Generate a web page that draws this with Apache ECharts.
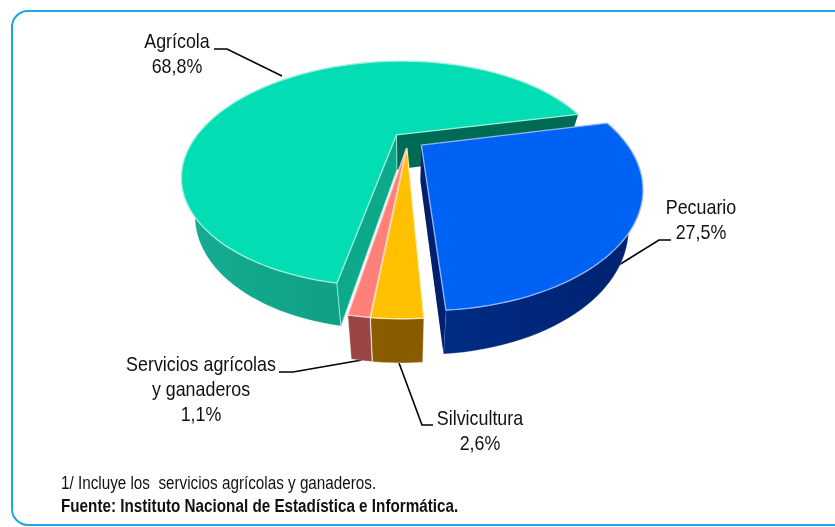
<!DOCTYPE html>
<html><head><meta charset="utf-8">
<style>html,body{margin:0;padding:0;background:#fff;overflow:hidden}#c{width:835px;height:527px}</style>
<script src="https://cdn.jsdelivr.net/npm/echarts@6/dist/echarts.min.js"></script>
</head><body><div id="c"></div>
<script>
// Data
const categories = ['Agrícola', 'Pecuario', 'Silvicultura', 'Servicios agrícolas\ny ganaderos'];
const shares = [68.8, 27.5, 2.6, 1.1];
const footnote = '1/ Incluye los  servicios agrícolas y ganaderos.';
const source = 'Fuente: Instituto Nacional de Estadística e Informática.';

// Styles and layout
const topColors = ['#02DDB4', '#0062F4', '#FFC000', '#FF8078'];
const wallColors = [['#14AE92', '#0A8B72'], ['#002C85', '#00216F'], ['#8A5C00', '#8A5C00'], ['#9A4644', '#9A4644']];
const innerEnd = ['#006B55', '#001F6E', null, null];
const innerStart = ['#0CA98B', null, null, null];
const edgeColors = ['#9DEFDF', '#8FB6F6', '#FFE9A8', '#FFC9C4'];
const explode = [0.06, 0.10, 0.09, 0.09];
const nudgeX = [0, 0, 0.012, 0.02];
const labelPos = [[177, 55], [701, 221], [480, 432], [201, 390]];
const leaders = [
  [[214, 49], [227, 49], [282, 76]],
  [[671, 240], [659, 240], [614, 268]],
  [[399, 363], [422, 425], [433, 425]],
  [[279, 372], [293, 372], [362, 360]]
];
const P = {ox: 405, oy: 139, rx: 202, ry: 102, persp: 0.35, shear: 4, depth: 35, depthGrow: 0.24, shrink: 0.94, start: 99.4};
const FONT = '"Liberation Sans", Arial, sans-serif';

const total = shares.reduce((a, b) => a + b, 0);
function pct(v) { return v.toFixed(1).replace('.', ',') + '%'; }
function proj(X, Y, low) {
  const f = 1 / (1 - P.persp * Y);
  let x = P.ox + (P.rx * X - P.shear * Y) * f, y = P.oy + P.ry * Y * f;
  if (low) { x = P.ox + (x - P.ox) * P.shrink; y += P.depth * (1 + P.depthGrow * Y); }
  return [x, y];
}
function renderSlice(params, api) {
  const i = params.dataIndex;
  let cum = 0;
  for (let k = 0; k < i; k++) cum += shares[k];
  const a0 = P.start + cum / total * 360;
  const a1 = a0 + api.value(1) / total * 360;
  const mid = (a0 + a1) / 2 * Math.PI / 180;
  const cx = explode[i] * Math.cos(mid) + nudgeX[i], cy = explode[i] * Math.sin(mid);
  const arc = [];
  const n = Math.max(4, Math.ceil((a1 - a0) / 2));
  for (let k = 0; k <= n; k++) {
    const a = (a0 + (a1 - a0) * k / n) * Math.PI / 180;
    arc.push([cx + Math.cos(a), cy + Math.sin(a)]);
  }
  const hi = arc.map(p => proj(p[0], p[1], false));
  const lo = arc.map(p => proj(p[0], p[1], true));
  const aT = proj(cx, cy, false), aB = proj(cx, cy, true);
  const poly = (pts, fill, extra) => ({type: 'polygon', shape: {points: pts}, style: Object.assign({fill: fill}, extra || {})});
  const minX = Math.min(...hi.map(p => p[0])), maxX = Math.max(...hi.map(p => p[0]));
  const wall = {type: 'linear', x: minX, y: 0, x2: maxX, y2: 0, global: true,
    colorStops: [{offset: 0, color: wallColors[i][0]}, {offset: 1, color: wallColors[i][1]}]};
  const children = [poly(hi.concat(lo.slice().reverse()), wall, {stroke: 'rgba(255,255,255,0.35)', lineWidth: 0.8})];
  if (innerEnd[i]) children.push(poly([aT, hi[n], lo[n], aB], innerEnd[i]));
  if (innerStart[i]) children.push(poly([aT, hi[0], lo[0], aB], innerStart[i], {stroke: edgeColors[i], lineWidth: 0.8}));
  children.push(poly([aT].concat(hi), topColors[i], {stroke: edgeColors[i], lineWidth: 1.3, lineJoin: 'round'}));
  return {type: 'group', children};
}
const labelGraphics = categories.map((c, i) => ({
  type: 'text', x: labelPos[i][0], y: labelPos[i][1], scaleX: 0.85,
  style: {text: c + '\n' + pct(shares[i]), font: '400 21px ' + FONT, fill: '#111', align: 'center', verticalAlign: 'middle', lineHeight: 25}
}));
const leaderGraphics = leaders.map(pts => ({
  type: 'polyline', shape: {points: pts}, style: {stroke: '#000', lineWidth: 1.6, fill: null}
}));
const chart = echarts.init(document.getElementById('c'), null, {renderer: 'canvas'});
chart.setOption({
  animation: false,
  backgroundColor: '#fff',
  series: [{
    type: 'custom', coordinateSystem: 'none', silent: true,
    renderItem: renderSlice,
    data: categories.map((c, i) => ({name: c, value: [i, shares[i]]}))
  }],
  graphic: [
    {type: 'rect', shape: {x: 12, y: 11, width: 900, height: 514, r: 16}, style: {fill: 'none', stroke: '#1AA5E3', lineWidth: 2}, z: -1},
    ...leaderGraphics,
    ...labelGraphics,
    {type: 'text', x: 61, y: 484, scaleX: 0.871, style: {text: footnote, font: '400 17.5px ' + FONT, fill: '#111', verticalAlign: 'middle'}},
    {type: 'text', x: 61, y: 507, scaleX: 0.871, style: {text: source, font: '700 17.5px ' + FONT, fill: '#111', verticalAlign: 'middle'}}
  ]
});
</script></body></html>
